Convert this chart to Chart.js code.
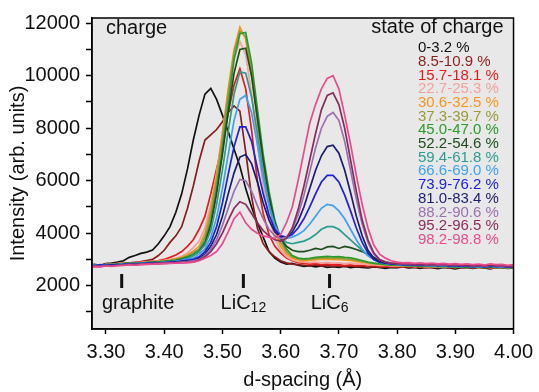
<!DOCTYPE html>
<html>
<head>
<meta charset="utf-8">
<script src="https://cdn.jsdelivr.net/npm/chart.js@4"></script>
<style>
  html, body { margin: 0; padding: 0; background: #fff; }
</style>
</head>
<body>
<canvas id="myChart" width="539" height="392"></canvas>
<script>
// d-spacing grid (Å)
const dSpacing = [
  3.27, 3.28, 3.29, 3.30, 3.31, 3.32, 3.33, 3.34, 3.35, 3.36, 3.37, 3.38, 3.39,
  3.40, 3.41, 3.42, 3.43, 3.44, 3.45, 3.46, 3.47, 3.48, 3.49,
  3.50, 3.51, 3.52, 3.53, 3.54, 3.55, 3.56, 3.57, 3.58, 3.59,
  3.60, 3.61, 3.62, 3.63, 3.64, 3.65, 3.66, 3.67, 3.68, 3.69,
  3.70, 3.71, 3.72, 3.73, 3.74, 3.75, 3.76, 3.77, 3.78, 3.79,
  3.80, 3.81, 3.82, 3.83, 3.84, 3.85, 3.86, 3.87, 3.88, 3.89, 3.90,
  3.91, 3.92, 3.93, 3.94, 3.95, 3.96, 3.97, 3.98, 3.99, 4.00
];

const socLabels = [
  '0-3.2 %', '8.5-10.9 %', '15.7-18.1 %', '22.7-25.3 %', '30.6-32.5 %',
  '37.3-39.7 %', '45.0-47.0 %', '52.2-54.6 %', '59.4-61.8 %', '66.6-69.0 %',
  '73.9-76.2 %', '81.0-83.4 %', '88.2-90.6 %', '95.2-96.5 %', '98.2-98.8 %'
];

const socColors = [
  '#111111', '#8b1c1c', '#e41a1c', '#f4a09c', '#f7941d',
  '#9a9a3a', '#2a9a2a', '#1e4d1e', '#2a9d8f', '#3fa0f0',
  '#2020d8', '#1c1c70', '#9a70b0', '#8c2a5c', '#ea4a8e'
];

const soc0 = [
  2760, 2810, 2780, 2840, 2860, 2900, 2950, 3080, 3150, 3230, 3280, 3360, 3600,
  3900, 4250, 4800, 5500, 6450, 7550, 8500, 9300, 9520, 9100,
  8500, 7870, 7200, 6550, 5700, 5000, 4400, 3850, 3300, 3050,
  2900, 2820, 2850, 2780, 2740, 2760, 2720, 2750, 2700, 2730,
  2700, 2740, 2690, 2720, 2700, 2680, 2720, 2700, 2660, 2700,
  2690, 2720, 2680, 2700, 2660, 2710, 2690, 2650, 2700, 2680, 2640,
  2690, 2700, 2660, 2700, 2680, 2640, 2700, 2690, 2660, 2680
];
const soc1 = [
  2740, 2790, 2770, 2810, 2840, 2830, 2880, 2860, 2900, 2920, 2960, 3000, 3150,
  3350, 3650, 3900, 4250, 4950, 5800, 6750, 7550, 7750, 7950,
  8250, 8600, 8850, 8650, 7100, 5400, 4200, 3600, 3300, 3100,
  2950, 2870, 2820, 2800, 2780, 2760, 2790, 2750, 2770, 2740,
  2760, 2730, 2750, 2720, 2740, 2710, 2730, 2700, 2720, 2710,
  2700, 2730, 2690, 2720, 2700, 2680, 2710, 2690, 2720, 2680, 2700,
  2690, 2710, 2680, 2720, 2690, 2700, 2670, 2710, 2690, 2700
];
const soc2 = [
  2720, 2770, 2800, 2780, 2830, 2850, 2820, 2870, 2880, 2900, 2920, 2940, 2960,
  3000, 3080, 3170, 3300, 3500, 3750, 4150, 4650, 5500, 6450,
  7400, 8600, 9650, 10270, 9500, 7950, 6000, 4750, 3950, 3500,
  3250, 3050, 2950, 2880, 2850, 2820, 2840, 2800, 2820, 2790,
  2800, 2770, 2790, 2760, 2780, 2750, 2770, 2740, 2760, 2730,
  2740, 2720, 2750, 2710, 2740, 2720, 2700, 2730, 2710, 2690, 2720,
  2700, 2720, 2690, 2710, 2700, 2680, 2710, 2700, 2690, 2710
];
const soc3 = [
  2750, 2780, 2760, 2810, 2800, 2840, 2860, 2850, 2890, 2880, 2910, 2930, 2950,
  2970, 3000, 3050, 3120, 3250, 3450, 3700, 4200, 5100, 6300,
  7800, 9400, 10700, 11300, 10800, 9300, 7400, 5800, 4600, 3800,
  3350, 3100, 2980, 2920, 2900, 2880, 2900, 2870, 2890, 2860,
  2870, 2840, 2860, 2820, 2830, 2790, 2800, 2770, 2780, 2750,
  2760, 2740, 2770, 2730, 2750, 2720, 2740, 2710, 2730, 2720, 2700,
  2730, 2710, 2720, 2700, 2730, 2690, 2710, 2720, 2700, 2710
];
const soc4 = [
  2730, 2760, 2790, 2770, 2820, 2810, 2850, 2840, 2870, 2880, 2900, 2910, 2930,
  2950, 2980, 3020, 3080, 3180, 3320, 3500, 4000, 4900, 6200,
  7800, 9500, 11000, 11850, 11400, 10000, 8200, 6500, 5100, 4100,
  3500, 3200, 3050, 2980, 2950, 2960, 2990, 3000, 3010, 2990,
  3000, 2970, 2960, 2920, 2900, 2860, 2840, 2810, 2800, 2780,
  2770, 2760, 2740, 2760, 2730, 2750, 2720, 2740, 2710, 2730, 2700,
  2720, 2700, 2730, 2690, 2710, 2720, 2690, 2710, 2680, 2700
];
const soc5 = [
  2740, 2770, 2750, 2800, 2790, 2830, 2850, 2830, 2860, 2870, 2890, 2900, 2920,
  2940, 2960, 3000, 3050, 3130, 3260, 3400, 3850, 4700, 6000,
  7600, 9300, 10900, 11700, 11500, 10200, 8400, 6700, 5300, 4300,
  3650, 3300, 3100, 3020, 3000, 3010, 3030, 3050, 3060, 3040,
  3050, 3020, 3000, 2960, 2920, 2880, 2850, 2820, 2800, 2790,
  2780, 2760, 2770, 2740, 2760, 2730, 2750, 2720, 2740, 2710, 2730,
  2710, 2730, 2700, 2720, 2700, 2730, 2690, 2710, 2700, 2720
];
const soc6 = [
  2760, 2740, 2780, 2790, 2810, 2800, 2840, 2860, 2850, 2870, 2880, 2900, 2910,
  2930, 2950, 2980, 3030, 3100, 3200, 3350, 3700, 4450, 5700,
  7200, 8900, 10600, 11600, 11650, 10500, 8750, 7000, 5600, 4500,
  3800, 3400, 3150, 3050, 3020, 3040, 3080, 3100, 3120, 3100,
  3110, 3080, 3060, 3010, 2960, 2900, 2860, 2830, 2810, 2790,
  2780, 2770, 2750, 2770, 2740, 2750, 2730, 2750, 2720, 2740, 2710,
  2730, 2700, 2720, 2710, 2690, 2720, 2700, 2710, 2690, 2700
];
const soc7 = [
  2750, 2770, 2760, 2790, 2780, 2820, 2830, 2850, 2840, 2860, 2870, 2890, 2900,
  2910, 2930, 2960, 3000, 3060, 3150, 3300, 3600, 4300, 5500,
  7000, 8600, 10100, 11000, 11050, 10000, 8400, 6800, 5400, 4400,
  3800, 3500, 3350, 3300, 3300, 3350, 3420, 3380, 3480, 3500,
  3420, 3500, 3450, 3380, 3300, 3200, 3080, 2980, 2900, 2850,
  2820, 2790, 2800, 2760, 2780, 2750, 2770, 2740, 2760, 2730, 2750,
  2720, 2740, 2710, 2730, 2700, 2720, 2740, 2700, 2720, 2690
];
const soc8 = [
  2770, 2750, 2790, 2780, 2800, 2810, 2830, 2820, 2850, 2860, 2880, 2870, 2890,
  2900, 2920, 2950, 2990, 3050, 3150, 3300, 3550, 4100, 5100,
  6400, 7900, 9300, 10150, 10100, 9200, 7800, 6300, 5100, 4300,
  3850, 3650, 3600, 3650, 3700, 3800, 3950, 4150, 4250, 4250,
  4150, 3950, 3750, 3550, 3350, 3150, 3000, 2900, 2850, 2820,
  2800, 2780, 2790, 2760, 2780, 2750, 2760, 2740, 2760, 2730, 2740,
  2720, 2750, 2710, 2730, 2700, 2740, 2710, 2720, 2690, 2710
];
const soc9 = [
  2760, 2780, 2750, 2790, 2800, 2790, 2820, 2840, 2830, 2850, 2860, 2880, 2870,
  2890, 2910, 2930, 2960, 3000, 3050, 3200, 3400, 3850, 4600,
  5700, 7000, 8300, 9100, 9250, 8600, 7400, 6100, 5000, 4300,
  3900, 3800, 3850, 3950, 4100, 4350, 4650, 4950, 5100, 5050,
  4850, 4550, 4150, 3750, 3400, 3150, 3000, 2900, 2850, 2830,
  2810, 2790, 2800, 2770, 2790, 2760, 2780, 2750, 2770, 2740, 2760,
  2730, 2750, 2720, 2740, 2710, 2750, 2720, 2730, 2700, 2720
];
const soc10 = [
  2750, 2770, 2790, 2760, 2800, 2780, 2810, 2830, 2820, 2840, 2850, 2860, 2870,
  2880, 2900, 2910, 2940, 2970, 3000, 3100, 3300, 3650, 4250,
  5150, 6250, 7300, 8050, 8050, 7500, 6500, 5500, 4700, 4150,
  3900, 3850, 3950, 4200, 4550, 5000, 5500, 5950, 6200, 6200,
  5950, 5450, 4850, 4200, 3650, 3250, 3000, 2900, 2860, 2830,
  2820, 2800, 2810, 2780, 2800, 2770, 2790, 2760, 2780, 2750, 2770,
  2740, 2760, 2730, 2750, 2720, 2760, 2730, 2740, 2710, 2730
];
const soc11 = [
  2740, 2760, 2750, 2780, 2770, 2790, 2800, 2820, 2810, 2830, 2840, 2850, 2860,
  2870, 2880, 2900, 2920, 2940, 2950, 3050, 3200, 3500, 3950,
  4650, 5500, 6300, 6900, 7000, 6650, 5950, 5150, 4500, 4050,
  3850, 3850, 4050, 4450, 5000, 5700, 6400, 6950, 7300, 7350,
  7050, 6400, 5550, 4650, 3900, 3350, 3050, 2920, 2870, 2840,
  2830, 2810, 2820, 2790, 2810, 2780, 2800, 2770, 2790, 2760, 2780,
  2750, 2770, 2740, 2760, 2730, 2770, 2740, 2750, 2720, 2740
];
const soc12 = [
  2730, 2750, 2740, 2770, 2760, 2780, 2790, 2810, 2800, 2820, 2830, 2840, 2850,
  2860, 2870, 2880, 2900, 2920, 2950, 3000, 3150, 3400, 3750,
  4300, 4950, 5600, 6050, 6000, 5600, 5050, 4550, 4150, 3900,
  3800, 3850, 4150, 4700, 5450, 6350, 7250, 8000, 8450, 8600,
  8300, 7500, 6400, 5300, 4350, 3650, 3200, 3000, 2900, 2860,
  2840, 2820, 2830, 2800, 2820, 2790, 2810, 2780, 2800, 2770, 2790,
  2760, 2780, 2750, 2770, 2740, 2780, 2750, 2760, 2730, 2750
];
const soc13 = [
  2720, 2740, 2730, 2760, 2750, 2770, 2780, 2800, 2790, 2810, 2820, 2830, 2840,
  2850, 2860, 2870, 2880, 2890, 2900, 2980, 3100, 3300, 3600,
  4000, 4500, 4950, 5200, 5100, 4750, 4400, 4100, 3900, 3750,
  3700, 3800, 4200, 4900, 5800, 6800, 7800, 8700, 9250, 9350,
  8900, 8000, 6800, 5600, 4500, 3750, 3250, 3000, 2900, 2860,
  2850, 2830, 2840, 2810, 2830, 2800, 2820, 2790, 2810, 2780, 2800,
  2770, 2790, 2760, 2780, 2750, 2790, 2760, 2770, 2740, 2760
];
const soc14 = [
  2700, 2730, 2720, 2750, 2740, 2760, 2770, 2790, 2780, 2800, 2810, 2820, 2830,
  2840, 2850, 2860, 2870, 2880, 2900, 2950, 3050, 3150, 3300,
  3600, 4050, 4550, 4800, 4400, 4150, 4000, 3900, 3850, 3800,
  3950, 4400, 5000, 6000, 7100, 8200, 8900, 9500, 9900, 10000,
  9500, 8500, 7400, 6200, 5100, 4200, 3550, 3200, 3050, 2950,
  2900, 2870, 2880, 2850, 2870, 2840, 2860, 2830, 2850, 2820, 2840,
  2810, 2830, 2800, 2820, 2790, 2830, 2800, 2810, 2780, 2800
];

const intensities = [soc0, soc1, soc2, soc3, soc4, soc5, soc6, soc7,
  soc8, soc9, soc10, soc11, soc12, soc13, soc14];

const xTicks = [3.3, 3.4, 3.5, 3.6, 3.7, 3.8, 3.9, 4.0];
const xTickLabels = ['3.30', '3.40', '3.50', '3.60', '3.70', '3.80', '3.90', '4.00'];
const yTicks = [1000, 2000, 3000, 4000, 5000, 6000, 7000, 8000, 9000, 10000, 11000, 12000];
const yTickLabels = ['', '2000', '', '4000', '', '6000', '', '8000', '', '10000', '', '12000'];

// reflection markers
const phaseNames = ['graphite', 'LiC', 'LiC'];
const phaseSubs = ['', '12', '6'];
const phasePositions = [3.327, 3.536, 3.684];

Chart.defaults.font.family = '"Liberation Sans", Arial, sans-serif';
Chart.defaults.color = '#111';

const textFont = '20px "Liberation Sans", Arial, sans-serif';

const framePlugin = {
  id: 'frame',
  beforeDraw(chart) {
    const { ctx, chartArea: a } = chart;
    ctx.save();
    ctx.fillStyle = '#e8e8e8';
    ctx.fillRect(a.left, a.top, a.right - a.left, a.bottom - a.top);
    ctx.restore();
  },
  afterDraw(chart) {
    const { ctx, chartArea: a } = chart;
    const xs = chart.scales.x;
    ctx.save();
    ctx.strokeStyle = '#000';
    ctx.lineWidth = 1.5;
    ctx.strokeRect(a.left, a.top, a.right - a.left, a.bottom - a.top);

    ctx.fillStyle = '#111';
    ctx.font = textFont;
    ctx.textBaseline = 'middle';
    ctx.textAlign = 'left';
    ctx.fillText('charge', a.left + 14, 28);
    ctx.textAlign = 'right';
    ctx.fillText('state of charge', a.right - 10, 27);

    // legend text
    ctx.font = '15px "Liberation Sans", Arial, sans-serif';
    ctx.textAlign = 'left';
    socLabels.forEach((lab, i) => {
      ctx.fillStyle = socColors[i];
      ctx.fillText(lab, 418, 48 + i * 13.7);
    });

    // phase markers
    phasePositions.forEach((d, i) => {
      const px = xs.getPixelForValue(d);
      ctx.fillStyle = '#111';
      ctx.fillRect(px - 1.5, 274, 3, 14);
      ctx.font = textFont;
      const mainW = ctx.measureText(phaseNames[i]).width;
      ctx.font = '14px "Liberation Sans", Arial, sans-serif';
      const subW = phaseSubs[i] ? ctx.measureText(phaseSubs[i]).width : 0;
      let left = px - (mainW + subW) / 2;
      if (i === 0) left = a.left + 10;
      ctx.font = textFont;
      ctx.textAlign = 'left';
      ctx.fillText(phaseNames[i], left, 303);
      if (phaseSubs[i]) {
        ctx.font = '14px "Liberation Sans", Arial, sans-serif';
        ctx.fillText(phaseSubs[i], left + mainW, 308);
      }
    });
    ctx.restore();
  }
};

const ctx = document.getElementById('myChart');

new Chart(ctx, {
  type: 'line',
  data: {
    datasets: intensities.map((vals, i) => ({
      label: socLabels[i],
      data: vals.map((v, j) => ({ x: dSpacing[j], y: v })),
      borderColor: socColors[i],
      backgroundColor: socColors[i],
      borderWidth: 1.7,
      pointRadius: 0,
      tension: 0,
      order: intensities.length - i,
    })),
  },
  options: {
    responsive: false,
    animation: false,
    layout: { padding: { left: 0, right: 21, top: 9, bottom: 0 }, autoPadding: false },
    plugins: {
      legend: { display: false },
      tooltip: { enabled: false },
    },
    scales: {
      x: {
        type: 'linear',
        min: 3.276,
        max: 4.0,
        afterBuildTicks: (s) => { s.ticks = xTicks.map((v) => ({ value: v })); },
        afterFit: (s) => { s.height = 63; },
        grid: { drawOnChartArea: false, color: '#000', tickLength: 5, tickWidth: 1.5 },
        border: { color: '#000', width: 1.5 },
        ticks: {
          color: '#111',
          font: { size: 20 },
          padding: 6,
          maxRotation: 0,
          autoSkip: false,
          callback: (v, i) => xTickLabels[i],
        },
        title: {
          display: true,
          text: 'd-spacing (Å)',
          color: '#111',
          font: { size: 20 },
          padding: { top: 0, bottom: 0 },
        },
      },
      y: {
        min: 350,
        max: 12200,
        afterBuildTicks: (s) => { s.ticks = yTicks.map((v) => ({ value: v })); },
        afterFit: (s) => { s.width = 92; },
        grid: { drawOnChartArea: false, color: '#000', tickLength: 6, tickWidth: 1.5 },
        border: { color: '#000', width: 1.5 },
        ticks: {
          color: '#111',
          font: { size: 20 },
          padding: 6,
          autoSkip: false,
          callback: (v, i) => yTickLabels[i],
        },
        title: {
          display: true,
          text: 'Intensity (arb. units)',
          color: '#111',
          font: { size: 20 },
          padding: { top: 6, bottom: 0 },
        },
      },
    },
  },
  plugins: [framePlugin],
});
</script>
</body>
</html>
